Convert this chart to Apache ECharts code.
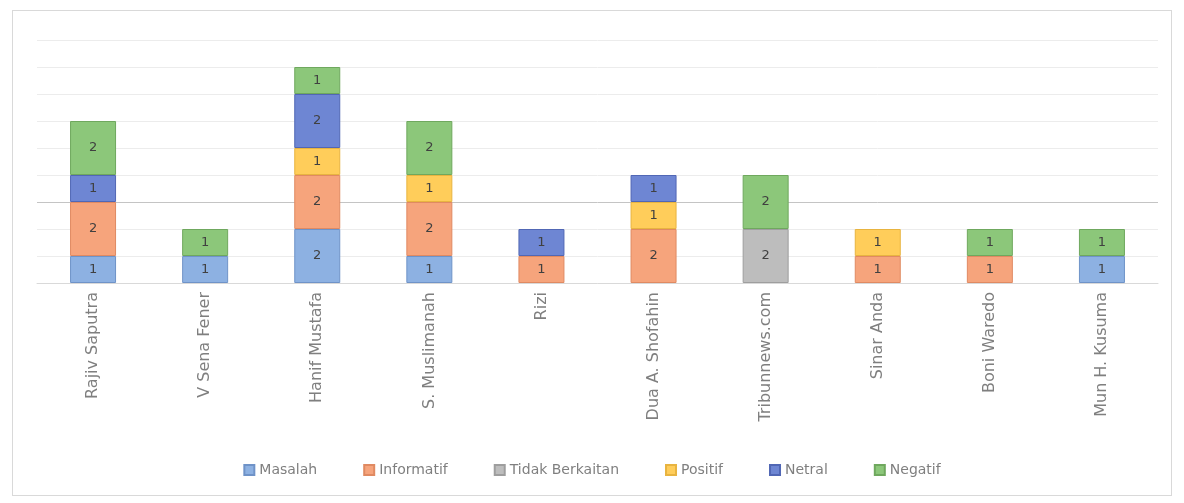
<!DOCTYPE html>
<html>
<head>
<meta charset="utf-8">
<script src="https://cdn.jsdelivr.net/npm/echarts@6/dist/echarts.min.js"></script>
<style>
html,body{margin:0;padding:0;background:#fff;}
#frame{position:absolute;left:12px;top:10px;width:1160px;height:486px;border:1px solid #d9d9d9;box-sizing:border-box;}
#chart{position:absolute;left:0;top:0;width:1184px;height:503px;}
</style>
</head>
<body>
<div id="frame"></div>
<div id="chart"></div>
<script>
const categories = ["Rajiv Saputra","V Sena Fener","Hanif Mustafa","S. Muslimanah","Rizi","Dua A. Shofahin","Tribunnews.com","Sinar Anda","Boni Waredo","Mun H. Kusuma"];
const seriesNames = ["Masalah","Informatif","Tidak Berkaitan","Positif","Netral","Negatif"];
const masalah        = [1, 1, 2, 1, null, null, null, null, null, 1];
const informatif     = [2, null, 2, 2, 1, 2, null, 1, 1, null];
const tidakBerkaitan = [null, null, null, null, null, null, 2, null, null, null];
const positif        = [null, null, 1, 1, null, 1, null, 1, null, null];
const netral         = [1, null, 2, null, 1, 1, null, null, null, null];
const negatif        = [2, 1, 1, 2, null, null, 2, null, 1, 1];
const yTicks = [0,1,2,3,4,5,6,7,8,9];

const colors = ["#8db1e2","#f6a47c","#bdbdbd","#ffcd5a","#6e86d3","#8cc77a"];
const borders = ["#6f93c8","#e08a62","#9e9e9e","#e8b440","#5167b5","#6fa85e"];
const allData = [masalah, informatif, tidakBerkaitan, positif, netral, negatif];

const series = seriesNames.map((name, i) => ({
  name: name,
  type: 'bar',
  stack: 'total',
  barWidth: 46,
  data: allData[i],
  itemStyle: {color: colors[i], borderColor: borders[i], borderWidth: 1},
  label: {show: true, position: 'inside', color: '#404040', fontSize: 13, fontFamily: 'DejaVu Sans'}
}));

const splitColors = yTicks.map(v => v === 3 ? '#c4c4c4' : '#ececec');

const chart = echarts.init(document.getElementById('chart'));
chart.setOption({
  animation: false,
  textStyle: {fontFamily: 'DejaVu Sans'},
  grid: {left: 37, right: 26, top: 40, bottom: 220, containLabel: false},
  legend: {
    data: seriesNames,
    bottom: 21,
    left: 'center',
    itemWidth: 10, itemHeight: 10, itemGap: 46,
    icon: 'rect',
    textStyle: {color: '#7f7f7f', fontSize: 14, fontFamily: 'DejaVu Sans'}
  },
  xAxis: {
    type: 'category',
    data: categories,
    axisLine: {show: true, lineStyle: {color: '#d9d9d9'}},
    axisTick: {show: false},
    axisLabel: {rotate: 90, color: '#7f7f7f', fontSize: 16, margin: 9, interval: 0, fontFamily: 'DejaVu Sans'}
  },
  yAxis: {
    type: 'value',
    min: yTicks[0], max: yTicks[yTicks.length-1], interval: 1,
    axisLine: {show: false}, axisTick: {show: false},
    axisLabel: {show: false},
    splitLine: {lineStyle: {color: splitColors, width: 1}}
  },
  series: series
});
</script>
</body>
</html>
